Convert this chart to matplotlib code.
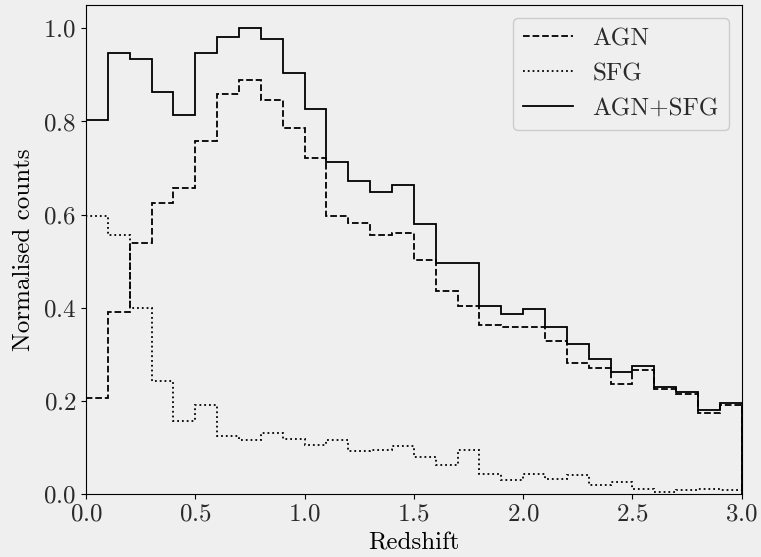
import numpy as np
import matplotlib
matplotlib.use("Agg")
import matplotlib.pyplot as plt

# redshift bin edges (0.1 wide, 0 to 3)
edges = np.round(np.arange(0, 3.01, 0.1), 2)

# normalised counts per bin
agn = [0.207, 0.391, 0.538, 0.624, 0.657, 0.757, 0.858, 0.889, 0.847, 0.786,
       0.721, 0.598, 0.581, 0.557, 0.560, 0.503, 0.435, 0.403, 0.363, 0.358,
       0.358, 0.328, 0.282, 0.270, 0.237, 0.267, 0.226, 0.214, 0.173, 0.191]
sfg = [0.598, 0.556, 0.399, 0.242, 0.156, 0.191, 0.125, 0.115, 0.132, 0.119,
       0.106, 0.116, 0.093, 0.095, 0.104, 0.079, 0.062, 0.095, 0.042, 0.031,
       0.042, 0.032, 0.041, 0.020, 0.026, 0.011, 0.004, 0.009, 0.010, 0.009]
total = [0.804, 0.946, 0.935, 0.864, 0.813, 0.946, 0.981, 1.000, 0.976, 0.904,
         0.827, 0.713, 0.672, 0.649, 0.663, 0.580, 0.496, 0.496, 0.403, 0.386,
         0.398, 0.358, 0.322, 0.289, 0.262, 0.275, 0.229, 0.220, 0.181, 0.196]

bg = '#efefef'
plt.rcParams['font.family'] = 'cmr10'
plt.rcParams['mathtext.fontset'] = 'cm'
plt.rcParams['axes.formatter.use_mathtext'] = True
plt.rcParams['font.size'] = 18
plt.rcParams['text.color'] = '#2a2a2a'
plt.rcParams['xtick.labelcolor'] = '#2a2a2a'
plt.rcParams['ytick.labelcolor'] = '#2a2a2a'

fig = plt.figure(figsize=(7.61, 5.57), dpi=100, facecolor=bg)
ax = fig.add_axes([0.113, 0.113, 0.8616, 0.878])
ax.set_facecolor(bg)

ax.stairs(agn, edges, color='k', linestyle='--', linewidth=1.3, label='AGN')
ax.stairs(sfg, edges, color='k', linestyle=':', linewidth=1.3, label='SFG')
ax.stairs(total, edges, color='k', linestyle='-', linewidth=1.3, label='AGN+SFG')

ax.set_xlim(0, 3.0)
ax.set_ylim(0, 1.05)
ax.set_xlabel('Redshift', labelpad=5)
ax.set_ylabel('Normalised counts', labelpad=6)

leg = ax.legend(loc='upper right', facecolor=bg, edgecolor='#cccccc', framealpha=1)

fig.savefig('out.png', dpi=100, facecolor=bg)
